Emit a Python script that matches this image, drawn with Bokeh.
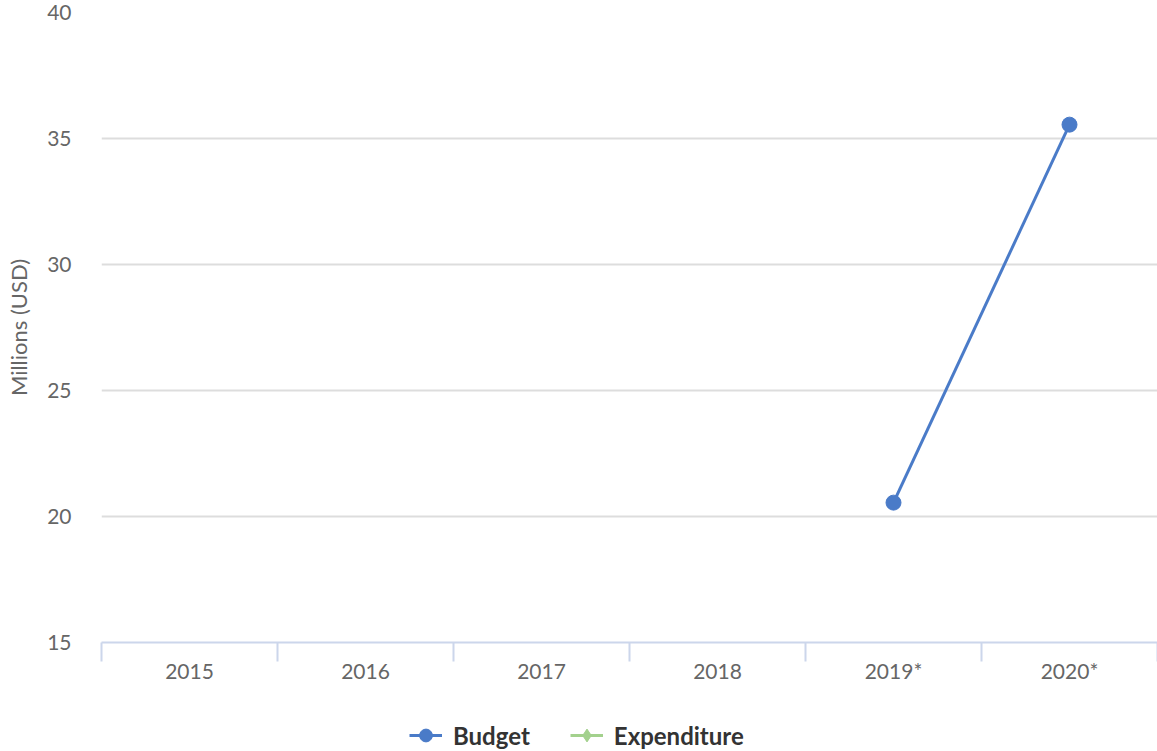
from bokeh.plotting import figure
from bokeh.layouts import column
from bokeh.models import (Range1d, FixedTicker, Legend, LegendItem, ColumnDataSource)
from bokeh.embed import file_html
from bokeh.resources import INLINE

categories = ["2015", "2016", "2017", "2018", "2019*", "2020*"]
budget = [None, None, None, None, 20.55, 35.55]
expenditure = [None, None, None, None, None, None]
y_ticks = [15, 20, 25, 30, 35, 40]
series_names = ["Budget", "Expenditure"]

xs = [i + 0.5 for i in range(len(categories))]
nan = float("nan")
bsrc = ColumnDataSource(dict(x=xs, y=[nan if v is None else v for v in budget]))
esrc = ColumnDataSource(dict(x=xs, y=[nan if v is None else v for v in expenditure]))

FONT = "Lato"
BLUE = "#4a7bc8"
GREEN = "#a3d18d"
W = 1157

p = figure(width=W, height=719, output_backend="svg", toolbar_location=None,
           x_range=Range1d(0, len(categories)), y_range=Range1d(15, 40),
           min_border_left=101, min_border_right=0, min_border_top=12, min_border_bottom=77)
p.outline_line_color = None
p.background_fill_color = "white"
p.border_fill_color = "white"

# x axis
p.xaxis.ticker = FixedTicker(ticks=xs, minor_ticks=list(range(len(categories) + 1)))
p.xaxis.major_label_overrides = {x: c for x, c in zip(xs, categories)}
p.xaxis.major_tick_line_color = None
p.xaxis.major_tick_out = 0
p.xaxis.major_tick_in = 0
p.xaxis.minor_tick_line_color = "#ccd6eb"
p.xaxis.minor_tick_line_width = 2
p.xaxis.minor_tick_out = 19
p.xaxis.minor_tick_in = 0
p.xaxis.axis_line_color = "#ccd6eb"
p.xaxis.axis_line_width = 2
p.xaxis.major_label_standoff = -4
p.xaxis.major_label_text_font = FONT
p.xaxis.major_label_text_font_size = "21px"
p.xaxis.major_label_text_color = "#666666"
p.xgrid.grid_line_color = None

# y axis
p.yaxis.ticker = FixedTicker(ticks=y_ticks)
p.yaxis.axis_line_color = None
p.yaxis.major_tick_line_color = None
p.yaxis.minor_tick_line_color = None
p.yaxis.major_tick_out = 0
p.yaxis.major_tick_in = 0
p.yaxis.major_label_standoff = 30
p.yaxis.major_label_text_font = FONT
p.yaxis.major_label_text_font_size = "21px"
p.yaxis.major_label_text_color = "#666666"
p.yaxis.axis_label = "Millions (USD)"
p.yaxis.axis_label_text_font = FONT
p.yaxis.axis_label_text_font_style = "normal"
p.yaxis.axis_label_text_font_size = "22px"
p.yaxis.axis_label_text_color = "#666666"
p.yaxis.axis_label_standoff = 12
p.ygrid.grid_line_color = "#dddddd"
p.ygrid.grid_line_width = 2

p.line("x", "y", source=bsrc, line_color=BLUE, line_width=3)
p.scatter("x", "y", source=bsrc, marker="circle", size=15, fill_color=BLUE, line_color=BLUE)
p.line("x", "y", source=esrc, line_color=GREEN, line_width=3)
p.scatter("x", "y", source=esrc, marker="diamond", size=16, fill_color=GREEN, line_color=GREEN)

# legend strip
lg = figure(width=W, height=32, output_backend="svg", toolbar_location=None,
            x_range=Range1d(0, 1), y_range=Range1d(0, 1),
            min_border=0)
lg.axis.visible = False
lg.grid.grid_line_color = None
lg.outline_line_color = None
lsrc = ColumnDataSource(dict(x=[nan], y=[nan]))
bl = lg.line("x", "y", source=lsrc, line_color=BLUE, line_width=3)
bm = lg.scatter("x", "y", source=lsrc, marker="circle", size=15, fill_color=BLUE, line_color=BLUE)
el = lg.line("x", "y", source=lsrc, line_color=GREEN, line_width=3)
em = lg.scatter("x", "y", source=lsrc, marker="diamond", size=16, fill_color=GREEN, line_color=GREEN)

legend = Legend(items=[LegendItem(label=series_names[0], renderers=[bl, bm]),
                       LegendItem(label=series_names[1], renderers=[el, em])],
                orientation="horizontal", location=(308, 0))
legend.label_text_font = FONT
legend.label_text_font_style = "bold"
legend.label_text_font_size = "24px"
legend.label_text_color = "#333333"
legend.glyph_width = 33
legend.glyph_height = 32
legend.spacing = 40
legend.label_standoff = 11
legend.border_line_color = None
legend.background_fill_alpha = 0
legend.margin = 0
legend.padding = 0
lg.add_layout(legend, "center")

open("out.html", "w").write(file_html(column(p, lg, spacing=0), INLINE))
